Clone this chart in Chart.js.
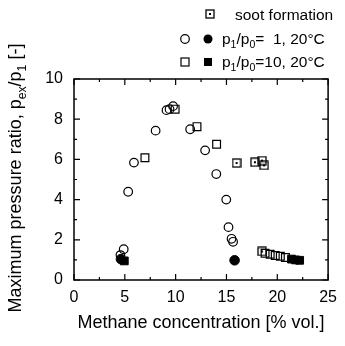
<!DOCTYPE html>
<html>
<head>
<meta charset="utf-8">
<script src="https://cdn.jsdelivr.net/npm/chart.js@4.4.1/dist/chart.umd.min.js"></script>
<style>
  html, body { margin: 0; padding: 0; background: #fff; }
</style>
</head>
<body>
<canvas id="c" width="345" height="346"></canvas>
<script>
// [methane %, pex/p1]
var circleOpen = [[4.57,1.24],[4.89,1.53],[5.33,4.39],[5.9,5.84],[8.03,7.43],[9.1,8.45],[9.4,8.5],[9.75,8.65],[11.43,7.5],[12.9,6.45],[14.0,5.27],[14.98,4.0],[15.2,2.63],[15.5,2.05],[15.65,1.9]];
var circleFilled = [[4.62,1.04],[15.8,0.98]];
var squareOpen = [[6.98,6.08],[9.95,8.5],[12.1,7.63],[14.03,6.75],[18.8,1.33],[19.3,1.28],[19.8,1.22],[20.3,1.18],[20.8,1.12]];
var squareFilled = [[4.95,0.95],[21.4,1.04],[21.8,1.0],[22.2,0.98]];
var sootSquares = [[16.0,5.82],[17.8,5.86],[18.5,5.94],[18.7,5.7],[18.5,1.42]];

var xMin = 0, xMax = 25, xStep = 5;
var yMin = 0, yMax = 10, yStep = 2;

var F = '"Liberation Sans", Arial, Helvetica, sans-serif';

function pts(arr) {
  return arr.map(function(p){ return {x: p[0], y: p[1]}; });
}

// square with a dot for the soot points
function sootIcon() {
  var cv = document.createElement('canvas');
  cv.width = 10; cv.height = 10;
  var g = cv.getContext('2d');
  g.strokeStyle = '#000'; g.lineWidth = 1.3;
  g.strokeRect(1, 1, 8, 8);
  g.fillStyle = '#000';
  g.fillRect(4, 4, 2, 2);
  return cv;
}
var soot = sootIcon();

function drawRich(ctx, parts, x, y, size) {
  // parts: [text, isSub]
  var cx = x;
  parts.forEach(function(p){
    var s = p[1] ? size * 0.68 : size;
    ctx.font = s + 'px ' + F;
    ctx.fillText(p[0], cx, y + (p[1] ? size * 0.28 : 0));
    cx += ctx.measureText(p[0]).width;
  });
  return cx - x;
}
function richWidth(ctx, parts, size) {
  var w = 0;
  parts.forEach(function(p){
    ctx.font = (p[1] ? size * 0.68 : size) + 'px ' + F;
    w += ctx.measureText(p[0]).width;
  });
  return w;
}

var decor = {
  id: 'decor',
  afterDraw: function(chart) {
    var ctx = chart.ctx, a = chart.chartArea;
    var xs = chart.scales.x, ys = chart.scales.y;
    ctx.save();
    ctx.strokeStyle = '#000';
    ctx.lineWidth = 1.5;
    ctx.strokeRect(a.left, a.top, a.right - a.left, a.bottom - a.top);

    // inward ticks on all sides
    ctx.lineWidth = 1.2;
    ctx.beginPath();
    for (var v = xMin; v <= xMax; v += xStep / 2) {
      var px = xs.getPixelForValue(v);
      var len = (v % xStep === 0) ? 6 : 3;
      ctx.moveTo(px, a.bottom); ctx.lineTo(px, a.bottom - len);
      ctx.moveTo(px, a.top); ctx.lineTo(px, a.top + len);
    }
    for (var w = yMin; w <= yMax; w += yStep / 2) {
      var py = ys.getPixelForValue(w);
      var l2 = (w % yStep === 0) ? 6 : 3;
      ctx.moveTo(a.left, py); ctx.lineTo(a.left + l2, py);
      ctx.moveTo(a.right, py); ctx.lineTo(a.right - l2, py);
    }
    ctx.stroke();

    ctx.fillStyle = '#000';
    ctx.textBaseline = 'alphabetic';
    ctx.textAlign = 'left';

    // x title
    ctx.font = '18px ' + F;
    var xt = 'Methane concentration [% vol.]';
    ctx.fillText(xt, (a.left + a.right) / 2 - ctx.measureText(xt).width / 2, 328);

    // y title (rotated, with subscripts)
    var yParts = [['Maximum pressure ratio, p', 0], ['ex', 1], ['/p', 0], ['1', 1], [' [-]', 0]];
    ctx.save();
    ctx.translate(21, 178);
    ctx.rotate(-Math.PI / 2);
    var yw = richWidth(ctx, yParts, 18);
    drawRich(ctx, yParts, -yw / 2, 0, 18);
    ctx.restore();

    // legend
    var ls = 15.5;
    ctx.drawImage(soot, 205, 9);
    ctx.font = ls + 'px ' + F;
    ctx.fillText('soot formation', 235, 20);

    ctx.lineWidth = 1.2;
    ctx.beginPath(); ctx.arc(185, 39, 4.3, 0, Math.PI * 2); ctx.stroke();
    ctx.beginPath(); ctx.arc(208, 39, 4.5, 0, Math.PI * 2); ctx.fill();
    drawRich(ctx, [['p', 0], ['1', 1], ['/p', 0], ['0', 1], ['=  1, 20°C', 0]], 222, 44, ls);

    ctx.strokeRect(181, 58, 8, 8);
    ctx.fillRect(204, 58, 8, 8);
    drawRich(ctx, [['p', 0], ['1', 1], ['/p', 0], ['0', 1], ['=10, 20°C', 0]], 222, 67, ls);
    ctx.restore();
  }
};

new Chart(document.getElementById('c'), {
  type: 'scatter',
  data: {
    datasets: [
      { data: pts(circleOpen), pointStyle: 'circle', pointRadius: 4.3, backgroundColor: 'rgba(0,0,0,0)', borderColor: '#000', borderWidth: 1.2 },
      { data: pts(circleFilled), pointStyle: 'circle', pointRadius: 4.8, backgroundColor: '#000', borderColor: '#000', borderWidth: 1 },
      { data: pts(squareOpen), pointStyle: 'rect', pointRadius: 5.5, backgroundColor: 'rgba(0,0,0,0)', borderColor: '#000', borderWidth: 1.2 },
      { data: pts(squareFilled), pointStyle: 'rect', pointRadius: 5.5, backgroundColor: '#000', borderColor: '#000', borderWidth: 1 },
      { data: pts(sootSquares), pointStyle: soot, pointRadius: 5 }
    ]
  },
  options: {
    responsive: false,
    animation: false,
    layout: { padding: { top: 79, right: 9, left: 0, bottom: 0 } },
    plugins: { legend: { display: false }, tooltip: { enabled: false } },
    scales: {
      x: {
        type: 'linear', min: xMin, max: xMax,
        ticks: { stepSize: xStep, color: '#000', font: { size: 16, family: F }, padding: 8 },
        grid: { display: false, drawTicks: false },
        border: { display: false },
        afterFit: function(s) { s.height = 66; }
      },
      y: {
        min: yMin, max: yMax,
        ticks: { stepSize: yStep, color: '#000', font: { size: 16, family: F }, padding: 11 },
        grid: { display: false, drawTicks: false },
        border: { display: false },
        afterFit: function(s) { s.width = 74; }
      }
    }
  },
  plugins: [decor]
});
</script>
</body>
</html>
